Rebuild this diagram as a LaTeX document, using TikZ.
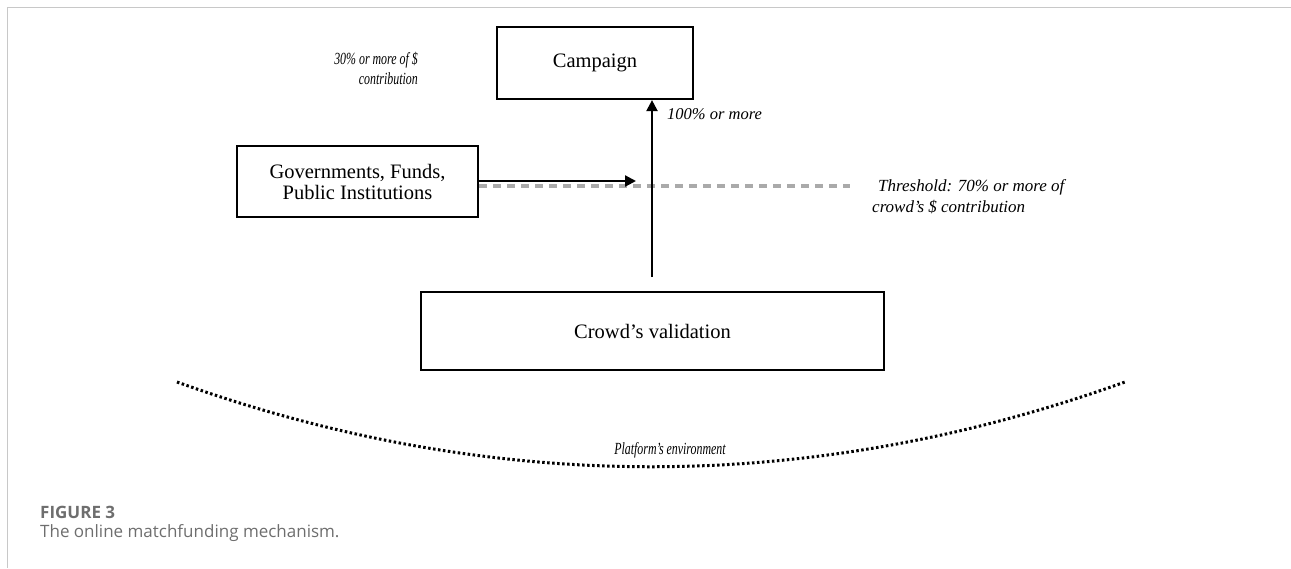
\documentclass[tikz,border=0pt]{standalone}
\usepackage{fontspec}
\setmainfont{Liberation Serif}
\newfontfamily\condfont[FakeStretch=0.7]{Liberation Serif}
\newfontfamily\capfont{Open Sans}
\usetikzlibrary{arrows.meta}
\definecolor{framegray}{RGB}{200,200,200}
\definecolor{capgray}{RGB}{110,110,110}
\definecolor{thrgray}{RGB}{170,170,170}
\begin{document}
\begin{tikzpicture}[
	x=1pt, y=-1pt,
	box/.style={ draw, line width=2.2pt, inner sep=0pt, font=\fontsize{20.5}{21}\selectfont, align=center },
	note/.style={ inner sep=0pt, font=\condfont\fontsize{17}{20}\selectfont\itshape },
	bignote/.style={ inner sep=0pt, font=\fontsize{16.5}{21}\selectfont\itshape },
	arr/.style={ line width=2.2pt, -{Triangle[length=11pt,width=11pt]} },
	thr/.style={ thrgray, line width=4pt, dash pattern=on 8pt off 6pt },
	env/.style={ line width=3pt, dash pattern=on 2.5pt off 2.5pt }
]
\useasboundingbox (0,0) rectangle (1291,568);
\draw[framegray, line width=1.5pt] (1291,7.5) -- (7.5,7.5) -- (7.5,568);

\node at (595,63) (camp) [box, minimum width=196pt, minimum height=72pt] {Campaign};
\node at (357.5,181.5) (govt) [box, minimum width=241pt, minimum height=71pt] {Governments, Funds,\\Public Institutions};
\node at (652.5,331) (crowd) [box, minimum width=463pt, minimum height=78pt] {Crowd’s validation};

\node at (418,68) (share) [note, anchor=east, align=right] {30\% or more of \$\\contribution};
\node at (667,114) (full) [bignote, anchor=west] {100\% or more};
\node at (872,197) (thres) [bignote, font=\fontsize{17}{21}\selectfont\itshape, anchor=west, align=left] {\hspace{6pt}Threshold: 70\% or more of\\crowd’s \$ contribution};

\coordinate (th) at (850,186);
\draw[thr] (govt.east |- th) -- (th);

\coordinate (ha) at (636,181);
\draw[arr] (govt.east |- ha) -- (ha);

\coordinate (vs) at (652,277);
\draw[arr] (vs) -- (vs |- camp.south);

\coordinate (e1) at (177,382);
\coordinate (e2) at (1125,382);
\draw[env] (e1) .. controls (492,495) and (810,495) .. (e2);
\node at (670,450) (platf) [note] {Platform’s environment};

\node at (40,512) (fig) [anchor=west, inner sep=0pt, capgray, font=\capfont\bfseries\fontsize{17}{19}\selectfont] {FIGURE 3};
\node at (40,533) (cap) [anchor=west, inner sep=0pt, capgray, font=\capfont\fontsize{17}{19}\selectfont] {The online matchfunding mechanism.};
\end{tikzpicture}
\end{document}
